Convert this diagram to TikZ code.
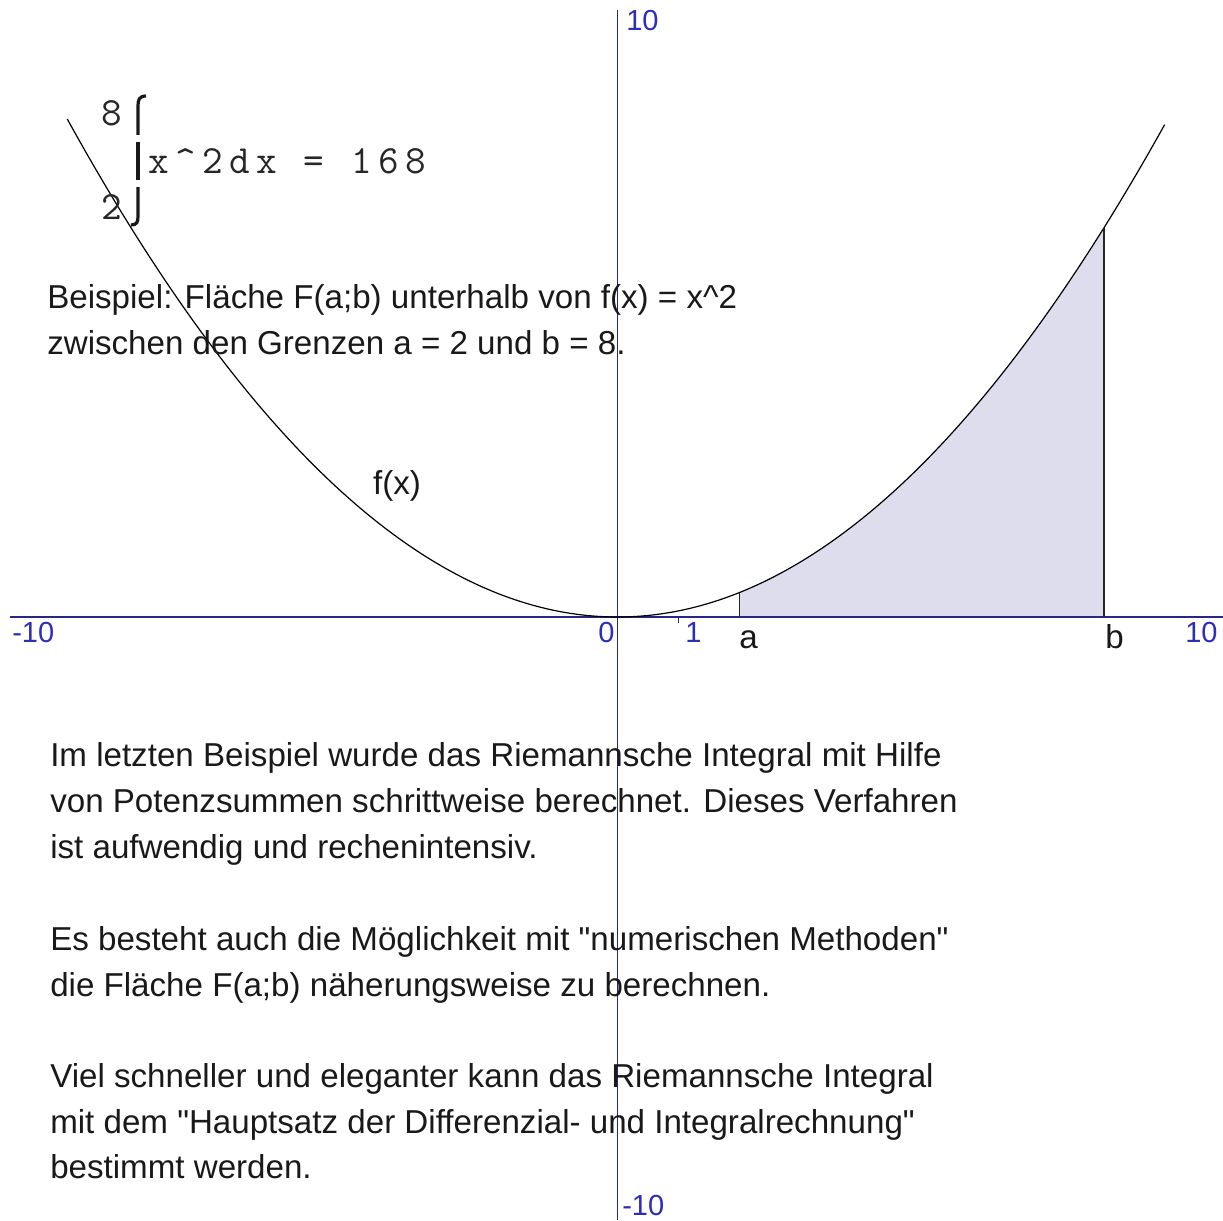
\documentclass[tikz,border=0pt]{standalone}
\usepackage{fontspec}
\setmainfont{Liberation Sans}
\newfontfamily\intmono[LetterSpace=16]{Latin Modern Mono}
\definecolor{axiscol}{RGB}{40,40,130}
\definecolor{labcol}{RGB}{45,45,185}
\definecolor{areacol}{RGB}{221,221,237}
\tikzset{
  txt/.style={anchor=base west,inner sep=0pt,font=\fontsize{24.85}{30}\selectfont,text=black!90},
  axlab/.style={anchor=base west,inner sep=0pt,font=\fontsize{21.75}{24}\selectfont,text=labcol},
  intxt/.style={anchor=base west,inner sep=0pt,font=\intmono\fontsize{30}{32}\selectfont,text=black!85},
  axisline/.style={draw=axiscol,line width=1.1pt},
  intsign/.style={draw=black!90,line width=2.4pt},
}
\begin{document}
\begin{tikzpicture}[x=0.75pt,y=-0.75pt]
\useasboundingbox (0,0) rectangle (1223,1220);
% shaded area under curve between a=2 and b=8
\fill[areacol] (739.1,617) -- plot[domain=2:8,samples=60] ({617.5+60.8*\x},{617-6.08*\x*\x}) -- (1103.9,617) -- cycle;
% axes
\coordinate (xl) at (10,617);
\coordinate (xr) at (1223,617);
\coordinate (yt) at (617.5,10);
\coordinate (yb) at (617.5,1220);
\draw[axisline] (xl) -- (xr);
\draw[axisline] (yt) -- (yb);
% tick at 1
\coordinate (t1a) at (678.3,617);
\coordinate (t1b) at (678.3,623);
\draw[axisline,line width=0.8pt] (t1a) -- (t1b);
% curve
\draw[black,line width=0.9pt] plot[domain=-9.05:9.0,samples=200] ({617.5+60.8*\x},{617-6.08*\x*\x});
% bounds a and b
\coordinate (a0) at (739.1,617);
\coordinate (a1) at (739.1,592.7);
\coordinate (b0) at (1103.9,617);
\coordinate (b1) at (1103.9,227.9);
\draw[black!85,line width=0.9pt] (a0) -- (a1);
\draw[black!85,line width=0.9pt] (b0) -- (b1);
% axis labels
\node[axlab] (lxm) at (12,642) {-10};
\node[axlab] (lx0) at (598,642) {0};
\node[axlab] (lx1) at (685,642) {1};
\node[axlab] (lxp) at (1185,642) {10};
\node[axlab] (lyp) at (626,31) {10};
\node[axlab] (lym) at (622,1215) {-10};
\node[txt] (la) at (739,648) {a};
\node[txt] (lb) at (1105,648) {b};
\node[txt,anchor=center] (lf) at (397,486) {f(x)};
% integral
\node[intxt] (iup) at (101,126) {8};
\node[intxt] (ilo) at (101,219) {2};
\node[intxt] (iexpr) at (148,174) {x\textasciicircum 2dx = 168};
\draw[intsign] (146,96) .. controls (139,96) and (138,100) .. (138,106) -- (138,135);
\draw[intsign] (138,142) -- (138,180);
\draw[intsign] (138,187) -- (138,216) .. controls (138,222) and (137,225) .. (131,225);
% texts
\node[txt] (t1) at (47,308) {Beispiel: Fläche F(a;b) unterhalb von f(x) = x\^{}2};
\node[txt] (t2) at (47,354) {zwischen den Grenzen a = 2 und b = 8.};
\node[txt] (p1a) at (50,766) {Im letzten Beispiel wurde das Riemannsche Integral mit Hilfe};
\node[txt] (p1b) at (50,812) {von Potenzsummen schrittweise berechnet. Dieses Verfahren};
\node[txt] (p1c) at (50,858) {ist aufwendig und rechenintensiv.};
\node[txt] (p2a) at (50,950) {Es besteht auch die Möglichkeit mit \textquotedbl numerischen Methoden\textquotedbl};
\node[txt] (p2b) at (50,996) {die Fläche F(a;b) näherungsweise zu berechnen.};
\node[txt] (p3a) at (50,1087) {Viel schneller und eleganter kann das Riemannsche Integral};
\node[txt] (p3b) at (50,1133) {mit dem \textquotedbl Hauptsatz der Differenzial- und Integralrechnung\textquotedbl};
\node[txt] (p3c) at (50,1178) {bestimmt werden.};
\end{tikzpicture}
\end{document}
